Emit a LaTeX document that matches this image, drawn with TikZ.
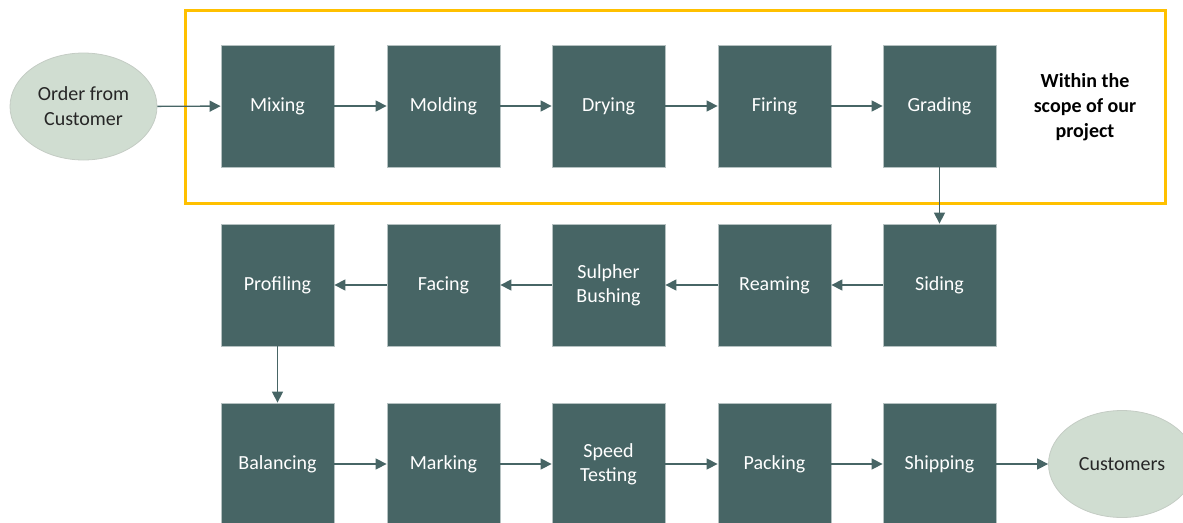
\documentclass[tikz,border=0pt]{standalone}
\usepackage{fontspec}
\setmainfont{Carlito}
\usetikzlibrary{arrows.meta,shapes.geometric}
\definecolor{boxc}{HTML}{476565}
\definecolor{ellc}{HTML}{D0DDD1}
\definecolor{ellb}{HTML}{C4CCC4}
\definecolor{scopec}{HTML}{FFC000}
\definecolor{txtc}{HTML}{262626}
\begin{document}
\begin{tikzpicture}[x=1pt,y=-1pt,
  stepbox/.style={rectangle,fill=boxc,draw=boxc!40!white,line width=0.8pt,minimum width=113pt,minimum height=122pt,inner sep=0pt,text=white,font=\fontsize{20}{24}\selectfont,align=center},
  endell/.style={ellipse,fill=ellc,draw=ellb,line width=0.8pt,minimum width=147pt,minimum height=107pt,inner sep=0pt,text=txtc,font=\fontsize{20}{25}\selectfont,align=center},
  flow/.style={draw=boxc,line width=1.4pt,-{Triangle[length=11pt,width=11pt]}}]
\useasboundingbox (0,0) rectangle (1183,522);
\draw[scopec,line width=3pt] (185,10) rectangle (1165,203);
% row 1
\node[endell] (order) at (83.5,106.5) {Order from\\Customer};
\node[stepbox] (mix) at (277.5,106) {Mixing};
\node[stepbox] (mold) at (443.5,106) {Molding};
\node[stepbox] (dry) at (608.5,106) {Drying};
\node[stepbox] (fire) at (774.5,106) {Firing};
\node[stepbox] (grade) at (939.5,106) {Grading};
\node[font=\bfseries\fontsize{20}{25}\selectfont,align=center,text=black] (scope) at (1085,107) {Within the\\scope of our\\project};
% row 2
\node[stepbox] (side) at (939.5,285) {Siding};
\node[stepbox] (ream) at (774.5,285) {Reaming};
\node[stepbox] (sulph) at (608.5,285) {Sulpher\\Bushing};
\node[stepbox] (face) at (443.5,285) {Facing};
\node[stepbox] (prof) at (277.5,285) {Profiling};
% row 3
\node[stepbox] (bal) at (277.5,464) {Balancing};
\node[stepbox] (mark) at (443.5,464) {Marking};
\node[stepbox] (speed) at (608.5,464) {Speed\\Testing};
\node[stepbox] (pack) at (774.5,464) {Packing};
\node[stepbox] (ship) at (939.5,464) {Shipping};
\node[endell] (cust) at (1122,464) {Customers};
% connectors
\draw[flow] (order) -- (mix);
\draw[flow] (mix) -- (mold);
\draw[flow] (mold) -- (dry);
\draw[flow] (dry) -- (fire);
\draw[flow] (fire) -- (grade);
\draw[flow] (grade) -- (side);
\draw[flow] (side) -- (ream);
\draw[flow] (ream) -- (sulph);
\draw[flow] (sulph) -- (face);
\draw[flow] (face) -- (prof);
\draw[flow] (prof) -- (bal);
\draw[flow] (bal) -- (mark);
\draw[flow] (mark) -- (speed);
\draw[flow] (speed) -- (pack);
\draw[flow] (pack) -- (ship);
\draw[flow] (ship) -- (cust);
\end{tikzpicture}
\end{document}
